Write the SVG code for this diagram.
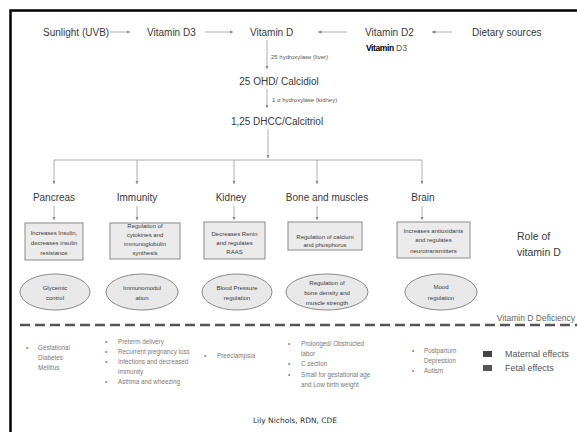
<svg xmlns="http://www.w3.org/2000/svg" width="577" height="432" viewBox="0 0 577 432">
<defs>
<marker id="ah" viewBox="0 0 6 6" refX="6" refY="3" markerWidth="3.5" markerHeight="3.5" orient="auto" markerUnits="userSpaceOnUse"><path d="M0,0 L6,3 L0,6 z" fill="#8a8a8a"/></marker>
<style>
text{font-family:"Liberation Sans",Arial,sans-serif;}
.m{font-size:10px;fill:#3a3a3a;}
.s{font-size:6px;fill:#555;}
.b{font-size:6px;fill:#3a3a3a;text-anchor:middle;}
.d{font-size:6.3px;fill:#7a7a7a;}
.c{text-anchor:middle;}
.ln{stroke:#9a9a9a;stroke-width:0.8;fill:none;}
.ar{stroke:#9a9a9a;stroke-width:0.8;fill:none;marker-end:url(#ah);}
.box{fill:#ebebeb;stroke:#8a8a8a;stroke-width:1;}
.ell{fill:#e8e8e8;stroke:#8a8a8a;stroke-width:1;}
</style>
</defs>
<rect width="577" height="432" fill="#fff"/>
<path d="M10.5,432 V10.5 H577" fill="none" stroke="#000" stroke-width="2.5"/>

<g id="connectors">
<line class="ar" x1="110" y1="32" x2="130" y2="32"/>
<line class="ar" x1="205" y1="32" x2="233" y2="32"/>
<line class="ar" x1="347" y1="32" x2="318" y2="32"/>
<line class="ar" x1="452" y1="32" x2="432" y2="32"/>
<line class="ar" x1="267" y1="40" x2="267" y2="69"/>
<line class="ar" x1="267" y1="89" x2="267" y2="108"/>
<line class="ar" x1="268" y1="129" x2="268" y2="158"/>
<line class="ln" x1="54" y1="160" x2="422" y2="160"/>
<line class="ar" x1="54" y1="160" x2="54" y2="184"/>
<line class="ar" x1="137" y1="160" x2="137" y2="184"/>
<line class="ar" x1="234" y1="160" x2="234" y2="184"/>
<line class="ar" x1="317" y1="160" x2="317" y2="184"/>
<line class="ar" x1="422" y1="160" x2="422" y2="184"/>
<line class="ar" x1="54" y1="206" x2="54" y2="220"/>
<line class="ar" x1="137" y1="206" x2="137" y2="220"/>
<line class="ar" x1="234" y1="206" x2="234" y2="220"/>
<line class="ar" x1="317" y1="206" x2="317" y2="220"/>
<line class="ar" x1="422" y1="206" x2="422" y2="220"/>
<text class="s" x="271" y="59">25 hydroxylase (liver)</text>
<text class="s" x="272" y="102">1 α hydroxylase (kidney)</text>
</g>

<g id="sunlight"><text class="m" x="43" y="36">Sunlight (UVB)</text></g>
<g id="vitd3"><text class="m" x="147" y="36">Vitamin D3</text></g>
<g id="vitd"><text class="m" x="250" y="36">Vitamin D</text></g>
<g id="vitd2"><text class="m" x="365" y="36">Vitamin D2</text>
<text x="366" y="51" style="font-size:8.5px;"><tspan style="font-weight:bold;fill:#000;letter-spacing:-0.4px">Vitamin</tspan><tspan style="fill:#555"> D3</tspan></text></g>
<g id="dietary"><text class="m" x="472" y="36">Dietary sources</text></g>
<g id="calcidiol"><text class="m c" x="279" y="85">25 OHD/ Calcidiol</text></g>
<g id="calcitriol"><text class="m c" x="277" y="125">1,25 DHCC/Calcitriol</text></g>

<g id="pancreas">
<text class="m c" x="54" y="201">Pancreas</text>
<rect class="box" x="25" y="223" width="58" height="37"/>
<text class="b" x="54" y="235">Increases Insulin,</text>
<text class="b" x="54" y="245">decreases insulin</text>
<text class="b" x="54" y="255">resistance</text>
<ellipse class="ell" cx="55" cy="292" rx="35" ry="18"/>
<text class="b" x="55" y="290">Glycemic</text>
<text class="b" x="55" y="300">control</text>
</g>

<g id="immunity">
<text class="m c" x="137" y="201">Immunity</text>
<rect class="box" x="110" y="223" width="70" height="36"/>
<text class="b" x="145" y="228">Regulation of</text>
<text class="b" x="145" y="237">cytokines and</text>
<text class="b" x="145" y="245.5">immunoglobulin</text>
<text class="b" x="145" y="255">synthesis</text>
<ellipse class="ell" cx="142" cy="292" rx="36" ry="18"/>
<text class="b" x="142" y="290">Immunomodul</text>
<text class="b" x="142" y="300">ation</text>
</g>

<g id="kidney">
<text class="m c" x="231" y="201">Kidney</text>
<rect class="box" x="204" y="222" width="61" height="37"/>
<text class="b" x="234.5" y="236">Decreases Renin</text>
<text class="b" x="234.5" y="244.5">and regulates</text>
<text class="b" x="234.5" y="254">RAAS</text>
<ellipse class="ell" cx="237" cy="292" rx="35" ry="18"/>
<text class="b" x="237" y="290">Blood Pressure</text>
<text class="b" x="237" y="300">regulation</text>
</g>

<g id="bone">
<text class="m c" x="327" y="201">Bone and muscles</text>
<rect class="box" x="288" y="222" width="74" height="28"/>
<text class="b" x="325" y="239">Regulation of calcium</text>
<text class="b" x="325" y="247">and phosphorus</text>
<ellipse class="ell" cx="327" cy="292" rx="41" ry="18"/>
<text class="b" x="327" y="285">Regulation of</text>
<text class="b" x="327" y="295">bone density and</text>
<text class="b" x="327" y="305">muscle strength</text>
</g>

<g id="brain">
<text class="m c" x="423" y="201">Brain</text>
<rect class="box" x="397" y="222" width="73" height="36"/>
<text class="b" x="433.5" y="233">Increases antioxidants</text>
<text class="b" x="433.5" y="242">and regulates</text>
<text class="b" x="433.5" y="253">neurotransmitters</text>
<ellipse class="ell" cx="441" cy="292" rx="36" ry="18"/>
<text class="b" x="441" y="289">Mood</text>
<text class="b" x="441" y="300">regulation</text>
</g>

<g id="role">
<text class="m" x="517" y="240" style="font-size:10.5px">Role of</text>
<text class="m" x="517" y="256" style="font-size:10.5px">vitamin D</text>
</g>

<g id="deficiency">
<text x="575" y="321" style="font-size:8.5px;fill:#666;text-anchor:end">Vitamin D Deficiency</text>
<line x1="20" y1="325" x2="577" y2="325" stroke="#555" stroke-width="2.5" stroke-dasharray="10 5"/>
</g>

<g id="col1">
<text class="d" x="26" y="350">•</text>
<text class="d" x="38" y="350">Gestational</text>
<text class="d" x="38" y="360">Diabetes</text>
<text class="d" x="38" y="370">Mellitus</text>
</g>
<g id="col2">
<text class="d" x="105" y="344">•</text><text class="d" x="118" y="344">Preterm delivery</text>
<text class="d" x="105" y="354">•</text><text class="d" x="118" y="354">Recurrent pregnancy loss</text>
<text class="d" x="105" y="364">•</text><text class="d" x="118" y="364">Infections and decreased</text>
<text class="d" x="118" y="374">immunity</text>
<text class="d" x="105" y="384">•</text><text class="d" x="118" y="384">Asthma and wheezing</text>
</g>
<g id="col3">
<text class="d" x="204" y="358">•</text><text class="d" x="217" y="358">Preeclampsia</text>
</g>
<g id="col4">
<text class="d" x="288" y="346">•</text><text class="d" x="301" y="346">Prolonged/ Obstructed</text>
<text class="d" x="301" y="356">labor</text>
<text class="d" x="288" y="366">•</text><text class="d" x="301" y="366">C section</text>
<text class="d" x="288" y="377">•</text><text class="d" x="301" y="377">Small for gestational age</text>
<text class="d" x="301" y="387">and Low birth weight</text>
</g>
<g id="col5">
<text class="d" x="412" y="353">•</text><text class="d" x="424" y="353">Postpartum</text>
<text class="d" x="424" y="363">Depression</text>
<text class="d" x="412" y="373">•</text><text class="d" x="424" y="373">Autism</text>
</g>
<g id="legend">
<rect x="483" y="351" width="9" height="6" fill="#444"/>
<text x="505" y="357" style="font-size:9px;fill:#555">Maternal effects</text>
<rect x="483" y="365" width="9" height="6" fill="#555"/>
<text x="505" y="371" style="font-size:9px;fill:#555">Fetal effects</text>
</g>
<g id="credit">
<text x="295" y="423" style="font-family:'DejaVu Sans',sans-serif;font-size:7.5px;fill:#333;text-anchor:middle">Lily Nichols, RDN, CDE</text>
</g>
</svg>
